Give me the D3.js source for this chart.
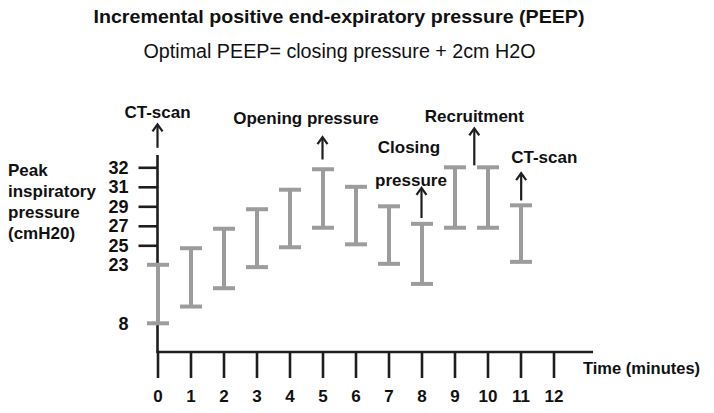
<!DOCTYPE html>
<html>
<head>
<meta charset="utf-8">
<script src="https://cdn.jsdelivr.net/npm/d3@7/dist/d3.min.js"></script>
<style>
  html, body { margin: 0; padding: 0; background: #fff; }
  svg { display: block; font-family: "Liberation Sans", Arial, Helvetica, sans-serif; }
</style>
</head>
<body>
<svg id="chart" width="714" height="413"></svg>
<script>
// ---------------- data ----------------
const titleText = "Incremental positive end-expiratory pressure (PEEP)";
const subtitleText = "Optimal PEEP= closing pressure + 2cm H2O";
const yLabelLines = ["Peak", "inspiratory", "pressure", "(cmH20)"];
const xLabelText = "Time (minutes)";

const times      = [0, 1, 2, 3, 4, 5, 6, 7, 8, 9, 10, 11];
const lowValues  = [8, 12.3, 17.0, 22.4, 24.8, 26.8, 25.1, 23.1, 18.1, 26.8, 26.8, 23.3];
const highValues = [23, 24.7, 26.7, 28.7, 30.7, 31.9, 31.0, 29.0, 27.2, 32.0, 32.0, 29.1];

const xTickValues = [0, 1, 2, 3, 4, 5, 6, 7, 8, 9, 10, 11, 12];
const yTickValues = [8, 23, 25, 27, 29, 31, 32];   // non-uniform (schematic) axis
const yTickSlots  = [0, 3, 4, 5, 6, 7, 8];          // evenly spaced label slots
const yTicksWithMark = [25, 27, 29, 31, 32];

// annotations (in data units: time, pressure)
const annotations = [
  { lines: ["CT-scan"],            tx: 0,     ty: [34.8],       ax: 0,     a0: 33.0, a1: 34.2 },
  { lines: ["Opening pressure"],   tx: 4.5,   ty: [34.5],       ax: 5,     a0: 32.4, a1: 33.55 },
  { lines: ["Closing", "pressure"],tx: 7.62,  ty: [33.0, 31.3], ax: 8,     a0: 27.8, a1: 30.9 },
  { lines: ["Recruitment"],        tx: 9.6,   ty: [34.6],       ax: 9.6,   a0: 32.1, a1: 34.0 },
  { lines: ["CT-scan"],            tx: 11.72, ty: [32.5],       ax: 11.02, a0: 29.6, a1: 31.7 }
];

// ---------------- layout ----------------
const svg = d3.select("#chart");
const axisY = 352;        // x-axis baseline
const axisTopY = 155;     // top of y-axis line
const axisRightX = 593;   // end of x-axis line
const barColor = "#9c9c9c";
const inkColor = "#1e1e1e";

const x = d3.scaleLinear().domain([0, 12]).range([157.5, 553.5]);
const slot = d3.scaleLinear().domain([0, 8]).range([323.3, 167.3]);
const y = d3.scaleLinear().domain(yTickValues).range(yTickSlots.map(slot));

// titles
svg.append("text")
  .attr("x", 93.5).attr("y", 17).attr("dominant-baseline", "central")
  .attr("textLength", 491).attr("lengthAdjust", "spacingAndGlyphs")
  .style("font-size", "17.5px").style("font-weight", "bold").attr("fill", "#111")
  .text(titleText);
svg.append("text")
  .attr("x", 143.5).attr("y", 51).attr("dominant-baseline", "central")
  .attr("textLength", 392).attr("lengthAdjust", "spacingAndGlyphs")
  .style("font-size", "19.5px").attr("fill", "#111")
  .text(subtitleText);

// y-axis label
svg.append("g").selectAll("text").data(yLabelLines).join("text")
  .attr("x", 8).attr("y", (d, i) => 170.5 + i * 20.9)
  .attr("dominant-baseline", "central")
  .style("font-size", "17px").style("font-weight", "bold").attr("fill", "#111")
  .text(d => d);

// y axis
const yAxis = d3.axisLeft(y).tickValues(yTickValues).tickSize(19).tickPadding(10).tickFormat(d3.format("d"));
const gy = svg.append("g").attr("transform", `translate(${x(0)},0)`).call(yAxis);
gy.select(".domain").remove();
gy.selectAll(".tick line")
  .attr("stroke", inkColor).attr("stroke-width", 2.6)
  .attr("display", d => yTicksWithMark.includes(d) ? null : "none");
gy.selectAll(".tick text")
  .style("font-size", "18px").style("font-weight", "bold").attr("fill", "#111")
  .attr("font-family", null);
svg.append("line")
  .attr("x1", x(0)).attr("x2", x(0)).attr("y1", axisTopY).attr("y2", axisY)
  .attr("stroke", inkColor).attr("stroke-width", 2.6);

// x axis
const xAxis = d3.axisBottom(x).tickValues(xTickValues).tickSize(26).tickPadding(12).tickFormat(d3.format("d"));
const gx = svg.append("g").attr("transform", `translate(0,${axisY})`).call(xAxis);
gx.select(".domain").remove();
gx.selectAll(".tick line").attr("stroke", inkColor).attr("stroke-width", 2.6);
gx.selectAll(".tick text")
  .style("font-size", "17px").style("font-weight", "bold").attr("fill", "#111")
  .attr("font-family", null);
svg.append("line")
  .attr("x1", x(0) - 1.3).attr("x2", axisRightX).attr("y1", axisY).attr("y2", axisY)
  .attr("stroke", inkColor).attr("stroke-width", 2.6);
svg.append("text")
  .attr("x", axisRightX - 10).attr("y", 368).attr("dominant-baseline", "central")
  .style("font-size", "16.5px").style("font-weight", "bold").attr("fill", "#111")
  .text(xLabelText);

// range bars (I-beams)
const bars = times.map((t, i) => ({ t, lo: lowValues[i], hi: highValues[i] }));
const capHalf = 11;
const gb = svg.append("g").attr("stroke", barColor).attr("stroke-width", 4);
gb.selectAll("line.v").data(bars).join("line").attr("class", "v")
  .attr("x1", d => x(d.t) + 0.5).attr("x2", d => x(d.t) + 0.5)
  .attr("y1", d => y(d.lo)).attr("y2", d => y(d.hi));
gb.selectAll("line.top").data(bars).join("line").attr("class", "top")
  .attr("x1", d => x(d.t) + 0.5 - capHalf).attr("x2", d => x(d.t) + 0.5 + capHalf)
  .attr("y1", d => y(d.hi)).attr("y2", d => y(d.hi));
gb.selectAll("line.bot").data(bars).join("line").attr("class", "bot")
  .attr("x1", d => x(d.t) + 0.5 - capHalf).attr("x2", d => x(d.t) + 0.5 + capHalf)
  .attr("y1", d => y(d.lo)).attr("y2", d => y(d.lo));

// annotations
const ga = svg.append("g");
annotations.forEach(a => {
  const ax = x(a.ax), yb = y(a.a0), yt = y(a.a1);
  ga.append("line").attr("x1", ax).attr("x2", ax).attr("y1", yb).attr("y2", yt + 1)
    .attr("stroke", inkColor).attr("stroke-width", 2.2);
  ga.append("path")
    .attr("d", `M${ax - 5},${yt + 7} L${ax},${yt} L${ax + 5},${yt + 7}`)
    .attr("fill", "none").attr("stroke", inkColor).attr("stroke-width", 2.2)
    .attr("stroke-linejoin", "miter");
  a.lines.forEach((ln, i) => {
    ga.append("text")
      .attr("x", x(a.tx) + (i === 1 ? 2 : 0)).attr("y", y(a.ty[i]))
      .attr("text-anchor", "middle").attr("dominant-baseline", "central")
      .style("font-size", "17px").style("font-weight", "bold").attr("fill", "#111")
      .text(ln);
  });
});
</script>
</body>
</html>
